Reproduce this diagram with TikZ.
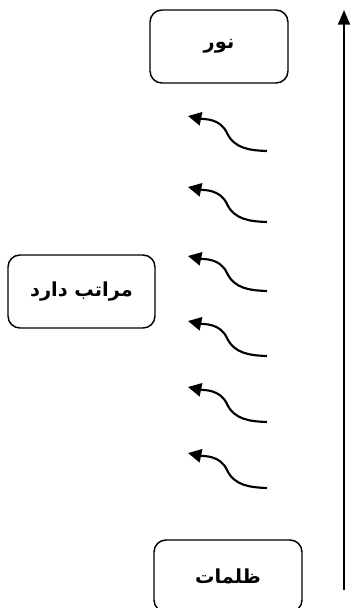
\documentclass[tikz,border=0pt]{standalone}
\usepackage{fontspec}
\usetikzlibrary{arrows.meta}
\TeXXeTstate=1
\newfontfamily\arabicfont[Script=Arabic]{DejaVu Sans}
\tikzset{
  box/.style={draw, line width=1.1pt, rounded corners=9pt, inner sep=0pt,
    font=\arabicfont\bfseries\fontsize{14.5}{17}\selectfont},
  curvyarrow/.style={line width=1.6pt, -{Triangle[length=10pt,width=10pt]}},
  mainarrow/.style={line width=1.2pt, -{Triangle[length=11pt,width=9pt]}}
}
\begin{document}
\begin{tikzpicture}[x=0.75pt,y=-0.75pt]
\useasboundingbox (0,0) rectangle (351,608);
\clip (0,0) rectangle (351,608);
\node[box, minimum width=103.5pt, minimum height=54.75pt] (nur) at (219,46.5) {\beginR نور\endR};
\node[box, minimum width=110.25pt, minimum height=54.75pt] (maratib) at (81.5,291.5) {\beginR مراتب دارد\endR};
\node[box, minimum width=111pt, minimum height=54pt] (zulumat) at (228,576) {\beginR ظلمات\endR};
\coordinate (bot) at (344,590);
\coordinate (top) at (344,10);
\draw[mainarrow] (bot) -- (top);
\foreach \i/\y in {1/116,2/187,3/256,4/321,5/387,6/453}{
  \coordinate (t\i) at (267,\y+35);
  \coordinate (m\i) at (227,\y+17);
  \coordinate (h\i) at (188,\y);
  \draw[curvyarrow] (t\i) to[out=178,in=-65] (m\i) to[out=115,in=-12] (h\i);
}
\end{tikzpicture}
\end{document}
